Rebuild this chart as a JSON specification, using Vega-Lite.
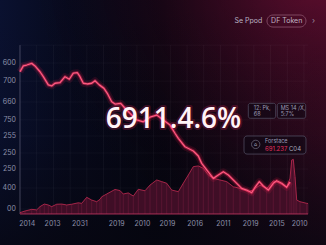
{
  "$schema": "https://vega.github.io/schema/vega-lite/v6.json",
  "width": 326,
  "height": 245,
  "autosize": {"type": "none"},
  "padding": 0,
  "background": "#06060f",
  "config": {
    "view": {"stroke": null},
    "axis": {"domain": false, "ticks": false, "grid": false, "title": null, "labels": false}
  },
  "datasets": {
    "one": [{}],
    "price": [
      {"t": 0, "v": 752}, {"t": 1.15, "v": 784}, {"t": 2.33, "v": 789}, {"t": 4.06, "v": 798}, {"t": 5.21, "v": 784},
      {"t": 6.94, "v": 752}, {"t": 8.09, "v": 725}, {"t": 9.83, "v": 680}, {"t": 11.0, "v": 674}, {"t": 12.15, "v": 689},
      {"t": 13.89, "v": 692}, {"t": 15.63, "v": 725}, {"t": 17.12, "v": 711}, {"t": 18.51, "v": 744}, {"t": 19.9, "v": 747},
      {"t": 20.83, "v": 725}, {"t": 21.98, "v": 689}, {"t": 23.37, "v": 685}, {"t": 24.9, "v": 689}, {"t": 26.04, "v": 703},
      {"t": 27.53, "v": 680}, {"t": 29.17, "v": 661}, {"t": 30.31, "v": 634}, {"t": 31.84, "v": 588}, {"t": 32.99, "v": 575},
      {"t": 34.97, "v": 579}, {"t": 36.46, "v": 552}, {"t": 38.78, "v": 515}, {"t": 40.52, "v": 488}, {"t": 42.81, "v": 478},
      {"t": 45.14, "v": 503}, {"t": 47.47, "v": 515}, {"t": 49.76, "v": 488}, {"t": 52.08, "v": 460}, {"t": 53.82, "v": 415},
      {"t": 54.97, "v": 387}, {"t": 57.29, "v": 341}, {"t": 60.17, "v": 318}, {"t": 61.91, "v": 290}, {"t": 63.09, "v": 250},
      {"t": 64.83, "v": 214}, {"t": 67.12, "v": 168}, {"t": 68.85, "v": 186}, {"t": 70.59, "v": 204}, {"t": 72.33, "v": 186},
      {"t": 74.65, "v": 150}, {"t": 76.98, "v": 113}, {"t": 78.72, "v": 104}, {"t": 80.45, "v": 89}, {"t": 81.6, "v": 119},
      {"t": 83.09, "v": 150}, {"t": 84.48, "v": 126}, {"t": 86.22, "v": 104}, {"t": 87.95, "v": 141}, {"t": 89.13, "v": 155},
      {"t": 90.87, "v": 141}, {"t": 92.6, "v": 119}, {"t": 93.75, "v": 148}
    ],
    "vol": [
      {"t": 0, "v": -20}, {"t": 1.74, "v": -11}, {"t": 4.06, "v": -2}, {"t": 5.8, "v": -5}, {"t": 6.94, "v": 13},
      {"t": 8.44, "v": 27}, {"t": 9.83, "v": 22}, {"t": 11.0, "v": 13}, {"t": 12.74, "v": 26}, {"t": 14.48, "v": 27},
      {"t": 16.22, "v": 22}, {"t": 17.95, "v": 26}, {"t": 20.24, "v": 34}, {"t": 21.42, "v": 31}, {"t": 23.16, "v": 64},
      {"t": 24.9, "v": 49}, {"t": 26.63, "v": 40}, {"t": 27.78, "v": 53}, {"t": 28.37, "v": 67}, {"t": 30.1, "v": 82},
      {"t": 32.99, "v": 107}, {"t": 34.72, "v": 101}, {"t": 35.87, "v": 82}, {"t": 37.6, "v": 88}, {"t": 39.34, "v": 71},
      {"t": 41.08, "v": 108}, {"t": 43.4, "v": 100}, {"t": 45.14, "v": 131}, {"t": 47.47, "v": 159}, {"t": 49.2, "v": 150},
      {"t": 50.94, "v": 141}, {"t": 52.67, "v": 104}, {"t": 54.97, "v": 95}, {"t": 56.7, "v": 141}, {"t": 58.44, "v": 186},
      {"t": 60.17, "v": 232}, {"t": 61.91, "v": 236}, {"t": 63.65, "v": 223}, {"t": 65.38, "v": 186}, {"t": 67.12, "v": 168},
      {"t": 69.44, "v": 159}, {"t": 71.77, "v": 150}, {"t": 74.06, "v": 122}, {"t": 76.39, "v": 113}, {"t": 79.27, "v": 95},
      {"t": 81.0, "v": 104}, {"t": 83.33, "v": 131}, {"t": 85.66, "v": 113}, {"t": 87.95, "v": 155}, {"t": 90.28, "v": 141},
      {"t": 92.6, "v": 119}, {"t": 93.75, "v": 168}, {"t": 94.34, "v": 268}, {"t": 94.9, "v": 272}, {"t": 95.49, "v": 177},
      {"t": 96.08, "v": 49}, {"t": 97.22, "v": 40}, {"t": 99.54, "v": 31}, {"t": 100, "v": 30}
    ],
    "gridx": [
      {"g": 0}, {"g": 5.8}, {"g": 11.6}, {"g": 17.4}, {"g": 23.2}, {"g": 29}, {"g": 34.8}, {"g": 40.6}, {"g": 46.4},
      {"g": 52.2}, {"g": 58}, {"g": 63.8}, {"g": 69.6}, {"g": 75.4}, {"g": 81.2}, {"g": 87}, {"g": 92.8}, {"g": 98.6}
    ],
    "gridy": [
      {"h": 0}, {"h": 115}, {"h": 219}, {"h": 307}, {"h": 400}, {"h": 488}, {"h": 586}, {"h": 701}, {"h": 800}, {"h": 898}
    ],
    "xlab": [
      {"t": 2.5, "label": "2014"}, {"t": 11.3, "label": "2013"}, {"t": 20.8, "label": "2031"}, {"t": 33.6, "label": "2019"},
      {"t": 42.5, "label": "2010"}, {"t": 51.2, "label": "2019"}, {"t": 60.8, "label": "2016"}, {"t": 70.6, "label": "2011"},
      {"t": 80.1, "label": "2019"}, {"t": 89.2, "label": "2015"}, {"t": 97.1, "label": "2010"}
    ],
    "ylab": [
      {"v": 800, "label": "600"}, {"v": 701, "label": "700"}, {"v": 586, "label": "660"}, {"v": 488, "label": "750"},
      {"v": 400, "label": "255"}, {"v": 307, "label": "250"}, {"v": 219, "label": "250"}, {"v": 115, "label": "400"},
      {"v": 0, "label": "00"}
    ]
  },
  "layer": [
    {
      "data": {"name": "one"},
      "mark": {"type": "rect", "fill": {"gradient": "linear", "x1": 0, "y1": 0, "x2": 1, "y2": 0, "stops": [
        {"offset": 0, "color": "#0a1130"}, {"offset": 0.2, "color": "#070a1e"}, {"offset": 0.5, "color": "#05050f"},
        {"offset": 0.72, "color": "#140614"}, {"offset": 1, "color": "#2e0a1e"}]}},
      "encoding": {
        "x": {"datum": -6.944, "type": "quantitative", "axis": null,
          "scale": {"domain": [-6.944, 106.25], "nice": false, "zero": false}},
        "x2": {"datum": 106.25},
        "y": {"datum": -197.3, "type": "quantitative", "axis": null,
          "scale": {"domain": [-197.3, 1145.2], "nice": false, "zero": false}},
        "y2": {"datum": 1145.2}
      }
    },
    {
      "data": {"name": "one"},
      "mark": {"type": "rect", "fill": {"gradient": "radial", "x1": 1, "y1": 0, "r1": 0, "x2": 1, "y2": 0, "r2": 0.9, "stops": [
        {"offset": 0, "color": "rgba(110,14,52,0.85)"}, {"offset": 0.45, "color": "rgba(72,10,36,0.45)"}, {"offset": 1, "color": "rgba(20,4,15,0)"}]}},
      "encoding": {
        "x": {"datum": -6.944, "type": "quantitative", "axis": null}, "x2": {"datum": 106.25},
        "y": {"datum": -197.3, "type": "quantitative", "axis": null}, "y2": {"datum": 1145.2}
      }
    },
    {
      "data": {"name": "one"},
      "mark": {"type": "rect", "fill": {"gradient": "linear", "x1": 0, "y1": 0, "x2": 0, "y2": 1, "stops": [
        {"offset": 0, "color": "rgba(6,6,15,0)"}, {"offset": 0.55, "color": "rgba(6,6,15,0.15)"}, {"offset": 1, "color": "rgba(6,6,15,0.75)"}]}},
      "encoding": {
        "x": {"datum": -6.944, "type": "quantitative", "axis": null}, "x2": {"datum": 106.25},
        "y": {"datum": -197.3, "type": "quantitative", "axis": null}, "y2": {"datum": 1145.2}
      }
    },
    {
      "data": {"name": "gridx"},
      "mark": {"type": "rule", "stroke": "#ffffff", "strokeOpacity": 0.06, "strokeWidth": 0.7},
      "encoding": {
        "x": {"field": "g", "type": "quantitative", "axis": null},
        "y": {"datum": 898, "type": "quantitative", "axis": null}, "y2": {"datum": -27.4}
      }
    },
    {
      "data": {"name": "gridy"},
      "mark": {"type": "rule", "stroke": "#ffffff", "strokeOpacity": 0.05, "strokeWidth": 0.7},
      "encoding": {
        "y": {"field": "h", "type": "quantitative", "axis": null},
        "x": {"datum": 0, "type": "quantitative", "axis": null}, "x2": {"datum": 100}
      }
    },
    {
      "data": {"name": "xlab"},
      "mark": {"type": "text", "font": "Inter", "fontSize": 7, "align": "center", "baseline": "middle", "fill": "#8c8fa8"},
      "encoding": {
        "x": {"field": "t", "type": "quantitative", "axis": null},
        "y": {"datum": -82, "type": "quantitative", "axis": null},
        "text": {"field": "label", "type": "nominal"}
      }
    },
    {
      "data": {"name": "ylab"},
      "mark": {"type": "text", "font": "Inter", "fontSize": 7, "align": "right", "baseline": "middle", "fill": "#8c8fa8"},
      "encoding": {
        "y": {"field": "v", "type": "quantitative", "axis": null},
        "x": {"datum": -1.4, "type": "quantitative", "axis": null},
        "text": {"field": "label", "type": "nominal"}
      }
    },
    {
      "data": {"name": "one"},
      "mark": {"type": "rule", "stroke": "#6a6a82", "strokeOpacity": 0.7, "strokeWidth": 0.8},
      "encoding": {
        "x": {"datum": 0, "type": "quantitative", "axis": null},
        "y": {"datum": 898, "type": "quantitative", "axis": null}, "y2": {"datum": -27.4}
      }
    },
    {
      "data": {"name": "vol"},
      "mark": {"type": "area", "fill": "#440f28", "fillOpacity": 0.92},
      "encoding": {
        "x": {"field": "t", "type": "quantitative", "axis": null},
        "y": {"field": "v", "type": "quantitative", "axis": null},
        "y2": {"datum": -27.4}
      }
    },
    {
      "data": {"name": "vol"},
      "mark": {"type": "rule", "stroke": "#761d3f", "strokeWidth": 0.6, "strokeOpacity": 0.8},
      "encoding": {
        "x": {"field": "t", "type": "quantitative", "axis": null},
        "y": {"field": "v", "type": "quantitative", "axis": null},
        "y2": {"datum": -27.4}
      }
    },
    {
      "data": {"name": "vol"},
      "mark": {"type": "line", "stroke": "#b8294f", "strokeWidth": 1, "strokeOpacity": 0.85},
      "encoding": {
        "x": {"field": "t", "type": "quantitative", "axis": null},
        "y": {"field": "v", "type": "quantitative", "axis": null}
      }
    },
    {
      "data": {"name": "one"},
      "mark": {"type": "rule", "stroke": "#c83a64", "strokeWidth": 1, "strokeOpacity": 0.8},
      "encoding": {
        "y": {"datum": -27.4, "type": "quantitative", "axis": null},
        "x": {"datum": 0, "type": "quantitative", "axis": null}, "x2": {"datum": 100}
      }
    },
    {
      "data": {"name": "price"},
      "mark": {"type": "line", "stroke": "#ff1e50", "strokeWidth": 7, "strokeOpacity": 0.12, "strokeJoin": "round"},
      "encoding": {
        "x": {"field": "t", "type": "quantitative", "axis": null},
        "y": {"field": "v", "type": "quantitative", "axis": null}
      }
    },
    {
      "data": {"name": "price"},
      "mark": {"type": "line", "stroke": "#ff2a5c", "strokeWidth": 3.2, "strokeOpacity": 0.4, "strokeJoin": "round"},
      "encoding": {
        "x": {"field": "t", "type": "quantitative", "axis": null},
        "y": {"field": "v", "type": "quantitative", "axis": null}
      }
    },
    {
      "data": {"name": "price"},
      "mark": {"type": "line", "stroke": "#ff5a80", "strokeWidth": 1.3, "strokeJoin": "round"},
      "encoding": {
        "x": {"field": "t", "type": "quantitative", "axis": null},
        "y": {"field": "v", "type": "quantitative", "axis": null}
      }
    },
    {
      "data": {"name": "one"},
      "mark": {"type": "text", "text": "6911.4.6%", "font": "Open Sans", "fontSize": 28, "fontWeight": 600, "align": "center", "baseline": "alphabetic",
        "fill": "#ff2d6a", "fillOpacity": 0.3, "stroke": "#ff2d6a", "strokeWidth": 4, "strokeOpacity": 0.2, "strokeJoin": "round"},
      "encoding": {
        "x": {"datum": 53.3, "type": "quantitative", "axis": null},
        "y": {"datum": 444, "type": "quantitative", "axis": null}
      }
    },
    {
      "data": {"name": "one"},
      "mark": {"type": "text", "text": "6911.4.6%", "font": "Open Sans", "fontSize": 28, "fontWeight": 600, "align": "center", "baseline": "alphabetic", "fill": "#fff4f7"},
      "encoding": {
        "x": {"datum": 53.3, "type": "quantitative", "axis": null},
        "y": {"datum": 444, "type": "quantitative", "axis": null}
      }
    },
    {
      "data": {"name": "one"},
      "mark": {"type": "text", "text": "Se Ppod", "font": "Inter", "fontSize": 7, "align": "center", "baseline": "middle", "fill": "#b9b2c4"},
      "encoding": {
        "x": {"datum": 79.3, "type": "quantitative", "axis": null},
        "y": {"datum": 1030, "type": "quantitative", "axis": null}
      }
    },
    {
      "data": {"name": "one"},
      "mark": {"type": "rect", "fill": null, "stroke": "#8e5670", "strokeWidth": 0.8, "cornerRadius": 6},
      "encoding": {
        "x": {"datum": 85.76, "type": "quantitative", "axis": null}, "x2": {"datum": 99.3},
        "y": {"datum": 1063, "type": "quantitative", "axis": null}, "y2": {"datum": 997}
      }
    },
    {
      "data": {"name": "one"},
      "mark": {"type": "text", "text": "DF   Token", "font": "Inter", "fontSize": 7, "align": "center", "baseline": "middle", "fill": "#c0b4c4"},
      "encoding": {
        "x": {"datum": 92.6, "type": "quantitative", "axis": null},
        "y": {"datum": 1030, "type": "quantitative", "axis": null}
      }
    },
    {
      "data": {"name": "one"},
      "mark": {"type": "text", "text": "›", "font": "Inter", "fontSize": 8, "align": "center", "baseline": "middle", "fill": "#9a8a9c"},
      "encoding": {
        "x": {"datum": 101.9, "type": "quantitative", "axis": null},
        "y": {"datum": 1030, "type": "quantitative", "axis": null}
      }
    },
    {
      "data": {"name": "one"},
      "mark": {"type": "rect", "fill": "#0c0814", "fillOpacity": 0.5, "stroke": "#4e4a5e", "strokeWidth": 0.8, "cornerRadius": 2},
      "encoding": {
        "x": {"datum": 79.27, "type": "quantitative", "axis": null}, "x2": {"datum": 88.78},
        "y": {"datum": 579, "type": "quantitative", "axis": null}, "y2": {"datum": 497}
      }
    },
    {
      "data": {"name": "one"},
      "mark": {"type": "rect", "fill": "#0c0814", "fillOpacity": 0.5, "stroke": "#4e4a5e", "strokeWidth": 0.8, "cornerRadius": 2},
      "encoding": {
        "x": {"datum": 89.34, "type": "quantitative", "axis": null}, "x2": {"datum": 99.2},
        "y": {"datum": 579, "type": "quantitative", "axis": null}, "y2": {"datum": 497}
      }
    },
    {
      "data": {"name": "one"},
      "mark": {"type": "text", "text": ["12: Pk,", "68"], "font": "Inter", "fontSize": 5.5, "lineHeight": 6.5, "align": "left", "baseline": "alphabetic", "fill": "#9a9ab4"},
      "encoding": {
        "x": {"datum": 81.2, "type": "quantitative", "axis": null},
        "y": {"datum": 543, "type": "quantitative", "axis": null}
      }
    },
    {
      "data": {"name": "one"},
      "mark": {"type": "text", "text": ["MS 14 /X,", "5:7%"], "font": "Inter", "fontSize": 5.5, "lineHeight": 6.5, "align": "left", "baseline": "alphabetic", "fill": "#9a9ab4"},
      "encoding": {
        "x": {"datum": 90.5, "type": "quantitative", "axis": null},
        "y": {"datum": 543, "type": "quantitative", "axis": null}
      }
    },
    {
      "data": {"name": "one"},
      "mark": {"type": "rect", "fill": "#0c0814", "fillOpacity": 0.5, "stroke": "#4e4a5e", "strokeWidth": 0.8, "cornerRadius": 3},
      "encoding": {
        "x": {"datum": 77.78, "type": "quantitative", "axis": null}, "x2": {"datum": 99.3},
        "y": {"datum": 400, "type": "quantitative", "axis": null}, "y2": {"datum": 301}
      }
    },
    {
      "data": {"name": "one"},
      "mark": {"type": "point", "shape": "circle", "size": 70, "filled": false, "stroke": "#8a8aa0", "strokeWidth": 0.8},
      "encoding": {
        "x": {"datum": 81.84, "type": "quantitative", "axis": null},
        "y": {"datum": 354, "type": "quantitative", "axis": null}
      }
    },
    {
      "data": {"name": "one"},
      "mark": {"type": "text", "text": "⌂", "font": "DejaVu Sans", "fontSize": 5, "align": "center", "baseline": "middle", "fill": "#a0a0b8"},
      "encoding": {
        "x": {"datum": 81.84, "type": "quantitative", "axis": null},
        "y": {"datum": 354, "type": "quantitative", "axis": null}
      }
    },
    {
      "data": {"name": "one"},
      "mark": {"type": "text", "text": "Forstace", "font": "Inter", "fontSize": 5.5, "align": "left", "baseline": "alphabetic", "fill": "#9a9ab4"},
      "encoding": {
        "x": {"datum": 85.07, "type": "quantitative", "axis": null},
        "y": {"datum": 362, "type": "quantitative", "axis": null}
      }
    },
    {
      "data": {"name": "one"},
      "mark": {"type": "text", "text": "691.237", "font": "Inter", "fontSize": 6, "align": "left", "baseline": "alphabetic", "fill": "#e0305e"},
      "encoding": {
        "x": {"datum": 85.07, "type": "quantitative", "axis": null},
        "y": {"datum": 318, "type": "quantitative", "axis": null}
      }
    },
    {
      "data": {"name": "one"},
      "mark": {"type": "text", "text": "C04", "font": "Inter", "fontSize": 6, "align": "left", "baseline": "alphabetic", "fill": "#a8a8bc"},
      "encoding": {
        "x": {"datum": 93.4, "type": "quantitative", "axis": null},
        "y": {"datum": 318, "type": "quantitative", "axis": null}
      }
    }
  ]
}
